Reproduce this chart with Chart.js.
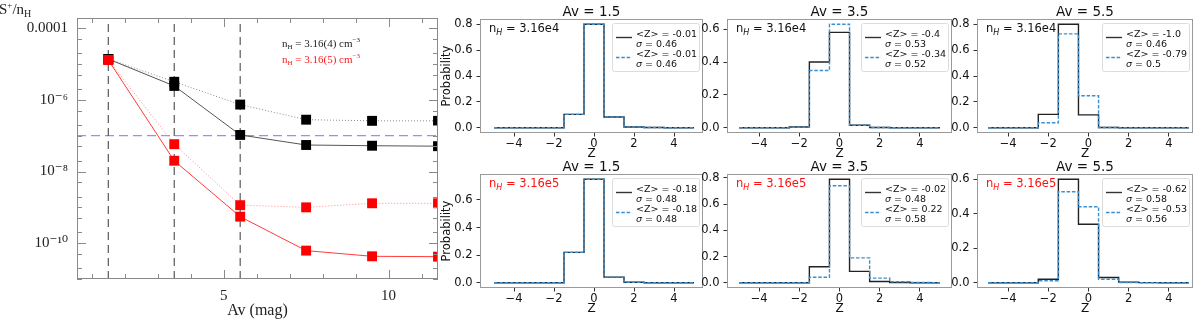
<!DOCTYPE html>
<html>
<head>
<meta charset="utf-8">
<script src="https://cdn.jsdelivr.net/npm/chart.js@4.4.1/dist/chart.umd.min.js"></script>
<style>
html, body { margin: 0; padding: 0; background: #fff; }
#wrap { position: relative; width: 1200px; height: 319px; overflow: hidden; }
canvas { position: absolute; }
</style>
</head>
<body>
<div id="wrap"></div>
<script>
// ---- left panel: S+/nH against Av ----
var av = [1.5, 3.5, 5.5, 7.5, 9.5, 11.5];
var e4Solid  = [1.38e-5, 2.45e-6, 1.05e-7, 5.5e-8, 5.25e-8, 5.1e-8];
var e4Dotted = [1.38e-5, 3.2e-6, 7.4e-7, 2.8e-7, 2.6e-7, 2.6e-7];
var e5Solid  = [1.3e-5, 2.0e-8, 5.5e-10, 6.2e-11, 4.3e-11, 4.2e-11];
var e5Dotted = [1.3e-5, 5.8e-8, 1.15e-9, 1.0e-9, 1.3e-9, 1.3e-9];
var avMarks = [1.5, 3.5, 5.5];
var sLevel = 1e-7;
var avTicks = [5, 10];
var sTicks = [1e-10, 1e-8, 1e-6, 1e-4];

// ---- histograms of Z ----
var zBins = [-5, -4, -3, -2, -1, 0, 1, 2, 3, 4, 5];
var zTicks = [-4, -2, 0, 2, 4];
var avTitles = ["Av = 1.5", "Av = 3.5", "Av = 5.5"];
var nhLabels = ["3.16e4", "3.16e5"];

var e4Black15 = [0, 0, 0, 0, 0.104, 0.80, 0.083, 0.006, 0.002, 0.001, 0.001];
var e4Blue15  = [0, 0, 0, 0, 0.104, 0.80, 0.083, 0.006, 0.002, 0.001, 0.001];
var e4Black35 = [0, 0, 0, 0.005, 0.40, 0.58, 0.016, 0.002, 0, 0, 0];
var e4Blue35  = [0, 0, 0, 0.003, 0.348, 0.63, 0.016, 0.002, 0, 0, 0];
var e4Black55 = [0, 0, 0, 0.104, 0.80, 0.10, 0.002, 0, 0, 0, 0];
var e4Blue55  = [0, 0, 0, 0.039, 0.725, 0.247, 0.003, 0, 0, 0, 0];

var e5Black15 = [0, 0, 0, 0.001, 0.22, 0.75, 0.041, 0.004, 0.001, 0, 0];
var e5Blue15  = [0, 0, 0, 0.001, 0.22, 0.75, 0.041, 0.004, 0.001, 0, 0];
var e5Black35 = [0, 0, 0, 0.001, 0.123, 0.79, 0.087, 0.01, 0.002, 0, 0];
var e5Blue35  = [0, 0, 0, 0.001, 0.043, 0.74, 0.19, 0.036, 0.008, 0.002, 0];
var e5Black55 = [0, 0, 0, 0.021, 0.60, 0.339, 0.031, 0.004, 0.001, 0, 0];
var e5Blue55  = [0, 0, 0, 0.012, 0.527, 0.44, 0.021, 0.002, 0, 0, 0];

var meanE4Black = ["-0.01", "-0.4", "-1.0"];
var sigE4Black  = ["0.46", "0.53", "0.46"];
var meanE4Blue  = ["-0.01", "-0.34", "-0.79"];
var sigE4Blue   = ["0.46", "0.52", "0.5"];
var meanE5Black = ["-0.18", "-0.02", "-0.62"];
var sigE5Black  = ["0.48", "0.48", "0.58"];
var meanE5Blue  = ["-0.18", "0.22", "-0.53"];
var sigE5Blue   = ["0.48", "0.58", "0.56"];

var wrap = document.getElementById("wrap");
var SANS = '"DejaVu Sans"';
var SERIF = '"Liberation Serif", "DejaVu Serif", serif';

function rich(ctx, x, y, parts) {
  parts.forEach(function (p) {
    ctx.font = p.f;
    ctx.fillText(p.t, x, y + (p.dy || 0));
    x += ctx.measureText(p.t).width;
  });
  return x;
}

function addCanvas(l, t, w, h) {
  var cv = document.createElement("canvas");
  cv.width = w; cv.height = h;
  cv.style.left = l + "px"; cv.style.top = t + "px";
  wrap.appendChild(cv);
  return cv;
}

function pts(xs, ys) { return xs.map(function (x, i) { return { x: x, y: ys[i] }; }); }

// ---------- left panel ----------
var sMin = 1e-11, sMax = 1.93e-4, avMin = 0.55, avMax = 11.5;

var leftDeco = {
  id: "leftDeco",
  afterDraw: function (chart) {
    var ctx = chart.ctx, a = chart.chartArea, xs = chart.scales.x, ys = chart.scales.y;
    ctx.save();
    ctx.strokeStyle = "#8a8a8a"; ctx.lineWidth = 1;
    ctx.strokeRect(a.left + 0.5, a.top + 0.5, a.right - a.left - 1, a.bottom - a.top - 1);
    ctx.beginPath();
    for (var e = -11; e <= -4; e++) {
      [1, 2, 5].forEach(function (m) {
        var v = m * Math.pow(10, e);
        if (v < sMin || v > sMax) return;
        var y = Math.round(ys.getPixelForValue(v)) + 0.5;
        var len = (m === 1 && e % 2 === 0) ? 9 : 5;
        ctx.moveTo(a.left, y); ctx.lineTo(a.left + len, y);
        ctx.moveTo(a.right, y); ctx.lineTo(a.right - len, y);
      });
    }
    for (var v = 1; v <= 11; v++) {
      var x = Math.round(xs.getPixelForValue(v)) + 0.5;
      var len = v % 5 === 0 ? 9 : 5;
      ctx.moveTo(x, a.top); ctx.lineTo(x, a.top + len);
      ctx.moveTo(x, a.bottom); ctx.lineTo(x, a.bottom - len);
    }
    ctx.stroke();

    ctx.fillStyle = "#222"; ctx.textBaseline = "alphabetic"; ctx.textAlign = "left";
    rich(ctx, -1, 14, [
      { t: "S", f: "15px " + SERIF },
      { t: "+", f: "9px " + SERIF, dy: -6 },
      { t: "/n", f: "15px " + SERIF },
      { t: "H", f: "10px " + SERIF, dy: 3 }
    ]);
    ctx.textAlign = "center";
    ctx.font = "16px " + SERIF;
    ctx.fillText("Av (mag)", (a.left + a.right) / 2, 315);
    ctx.textAlign = "left";
    var lines = [["3.16(4)", "#222", 47], ["3.16(5)", "#ff1a1a", 63]];
    lines.forEach(function (ln) {
      ctx.fillStyle = ln[1];
      rich(ctx, 282, ln[2], [
        { t: "n", f: "11px " + SERIF },
        { t: "H", f: "7px " + SERIF, dy: 2 },
        { t: " = " + ln[0] + " cm", f: "11px " + SERIF },
        { t: "\u22123", f: "7px " + SERIF, dy: -5 }
      ]);
    });
    ctx.restore();
  }
};

var supMap = { "-": "\u207B", "0": "\u2070", "1": "\u00B9", "2": "\u00B2", "3": "\u00B3", "4": "\u2074", "5": "\u2075", "6": "\u2076", "7": "\u2077", "8": "\u2078", "9": "\u2079" };
function sciLabel(v) {
  if (Math.abs(v - 1e-4) < 1e-9) return "0.0001";
  var e = Math.round(Math.log10(v));
  return "10" + String(e).split("").map(function (c) { return supMap[c]; }).join("");
}

function refLine(p, color, dash) {
  return { data: p, borderColor: color, borderWidth: 1.2, borderDash: dash, pointRadius: 0, fill: false };
}

var leftCv = addCanvas(0, 0, 450, 319);
var leftSets = [
  { data: pts(av, e5Solid), borderColor: "#ff3b3b", borderWidth: 1, pointStyle: "rect", pointRadius: 7,
    pointBackgroundColor: "#ff0000", pointBorderWidth: 0 },
  { data: pts(av, e5Dotted), borderColor: "#ff8a8a", borderWidth: 1, borderDash: [1, 2], pointStyle: "rect", pointRadius: 7,
    pointBackgroundColor: "#ff0000", pointBorderWidth: 0 },
  { data: pts(av, e4Solid), borderColor: "#555", borderWidth: 1, pointStyle: "rect", pointRadius: 7,
    pointBackgroundColor: "#000", pointBorderWidth: 0 },
  { data: pts(av, e4Dotted), borderColor: "#888", borderWidth: 1, borderDash: [1, 2], pointStyle: "rect", pointRadius: 7,
    pointBackgroundColor: "#000", pointBorderWidth: 0 }
];
avMarks.forEach(function (m) {
  leftSets.push(refLine([{ x: m, y: sMin }, { x: m, y: sMax }], "#5a5a5a", [8, 5]));
});
leftSets.push(refLine([{ x: avMin, y: sLevel }, { x: avMax, y: sLevel }], "#9090ff", [9, 5]));

new Chart(leftCv, {
  type: "line",
  data: { datasets: leftSets },
  options: {
    responsive: false, animation: false, events: [],
    layout: { padding: { top: 17, right: 12, left: 0, bottom: 0 } },
    plugins: { legend: { display: false }, tooltip: { enabled: false } },
    scales: {
      x: {
        type: "linear", min: avMin, max: avMax,
        afterFit: function (s) { s.height = 40; },
        afterBuildTicks: function (s) { s.ticks = avTicks.map(function (v) { return { value: v }; }); },
        grid: { display: false, drawTicks: false }, border: { display: false },
        ticks: { padding: 8, color: "#222", font: { family: SERIF, size: 15 } }
      },
      y: {
        type: "logarithmic", min: sMin, max: sMax,
        afterFit: function (s) { s.width = 77; },
        afterBuildTicks: function (s) { s.ticks = sTicks.map(function (v) { return { value: v }; }); },
        grid: { display: false, drawTicks: false }, border: { display: false },
        ticks: { padding: 9, color: "#222", font: { family: SERIF, size: 15 }, callback: sciLabel }
      }
    }
  },
  plugins: [leftDeco]
});

// ---------- histogram panels ----------
var cols = [
  { l: 480, r: 703, xmin: -5.7, xmax: 5.45 },
  { l: 727, r: 952, xmin: -5.6, xmax: 5.6 },
  { l: 977, r: 1193, xmin: -5.55, xmax: 5.2 }
];
var rows = [{ t: 19, b: 133 }, { t: 174, b: 288 }];

var histDeco = {
  id: "histDeco",
  afterDraw: function (chart, args, o) {
    var ctx = chart.ctx, a = chart.chartArea;
    ctx.save();
    ctx.strokeStyle = "#9a9a9a"; ctx.lineWidth = 1;
    ctx.strokeRect(a.left + 0.5, a.top + 0.5, a.right - a.left - 1, a.bottom - a.top - 1);

    ctx.fillStyle = "#111"; ctx.textBaseline = "alphabetic"; ctx.textAlign = "center";
    ctx.font = "13.5px " + SANS;
    ctx.fillText(o.title, (a.left + a.right) / 2, a.top - 3);
    ctx.font = "12px " + SANS;
    ctx.fillText("Z", (a.left + a.right) / 2, a.bottom + 24);
    if (o.ylabel) {
      ctx.save();
      ctx.translate(a.left - 33, (a.top + a.bottom) / 2);
      ctx.rotate(-Math.PI / 2);
      ctx.textBaseline = "middle";
      ctx.font = "11.5px " + SANS;
      ctx.fillText("Probability", 0, 0);
      ctx.restore();
    }

    ctx.textAlign = "left";
    ctx.fillStyle = o.nhColor;
    rich(ctx, a.left + 9, a.top + 13, [
      { t: "n", f: "11.5px " + SANS },
      { t: "H", f: "italic 8px " + SANS, dy: 2.5 },
      { t: " = " + o.nh, f: "11.5px " + SANS }
    ]);

    // legend
    var f = "9.5px " + SANS;
    ctx.font = f;
    var tw = 0;
    o.entries.forEach(function (en) {
      tw = Math.max(tw, ctx.measureText("<Z> = " + en.mean).width, ctx.measureText("\u03C3 = " + en.sig).width);
    });
    var lw = 26 + tw, lh = 48, lx = a.right - 4 - lw, ly = a.top + 4;
    ctx.fillStyle = "rgba(255,255,255,0.85)";
    ctx.strokeStyle = "#dcdcdc";
    ctx.beginPath();
    ctx.roundRect(lx + 0.5, ly + 0.5, lw, lh, 2);
    ctx.fill(); ctx.stroke();
    o.entries.forEach(function (en, i) {
      var base = ly + (i === 0 ? 0 : 20);
      ctx.strokeStyle = en.color; ctx.lineWidth = 1.4;
      ctx.setLineDash(en.dash);
      ctx.beginPath();
      ctx.moveTo(lx + 4, base + 14.5); ctx.lineTo(lx + 20, base + 14.5);
      ctx.stroke();
      ctx.setLineDash([]);
      ctx.fillStyle = "#111"; ctx.textBaseline = "middle";
      ctx.font = f;
      ctx.fillText("<Z> = " + en.mean, lx + 24, base + 12);
      rich(ctx, lx + 24, base + 21.5, [
        { t: "\u03C3", f: "italic " + f },
        { t: " = " + en.sig, f: f }
      ]);
    });
    ctx.restore();
  }
};

function makeHist(row, col, black, blue, meanK, sigK, meanB, sigB) {
  var c = cols[col], r = rows[row];
  var cv = addCanvas(c.l - 40, r.t - 19, c.r - c.l + 46, 164);
  var top = Math.max.apply(null, black.concat(blue));
  var ymax = top * 1.05, ymin = -top * 0.05;
  var yt = [];
  for (var k = 0; k * 0.2 <= ymax + 1e-9; k++) yt.push(Math.round(k * 2) / 10);
  new Chart(cv, {
    type: "line",
    data: {
      datasets: [
        { data: pts(zBins, blue), borderColor: "#3b8fd0", borderWidth: 1.4, borderDash: [3.5, 1.8],
          stepped: "middle", pointRadius: 0, fill: false },
        { data: pts(zBins, black), borderColor: "#222", borderWidth: 1.4,
          stepped: "middle", pointRadius: 0, fill: false }
      ]
    },
    options: {
      responsive: false, animation: false, events: [],
      layout: { padding: { top: 19, right: 6, left: 0, bottom: 0 } },
      plugins: {
        legend: { display: false }, tooltip: { enabled: false },
        histDeco: {
          title: avTitles[col], nh: nhLabels[row], nhColor: row === 0 ? "#111" : "#ff1010",
          ylabel: col === 0,
          entries: [
            { mean: meanK[col], sig: sigK[col], color: "#333", dash: [] },
            { mean: meanB[col], sig: sigB[col], color: "#3b8fd0", dash: [3.5, 1.8] }
          ]
        }
      },
      scales: {
        x: {
          type: "linear", min: c.xmin, max: c.xmax,
          afterFit: function (s) { s.height = 31; },
          afterBuildTicks: function (s) { s.ticks = zTicks.map(function (v) { return { value: v }; }); },
          grid: { drawOnChartArea: false, tickLength: 3.5, color: "#333" }, border: { display: false },
          ticks: { padding: 1, color: "#111", font: { family: "DejaVu Sans", size: 11.5 },
            callback: function (v) { return v < 0 ? "\u2212" + (-v) : String(v); } }
        },
        y: {
          type: "linear", min: ymin, max: ymax,
          afterFit: function (s) { s.width = 40; },
          afterBuildTicks: function (s) { s.ticks = yt.map(function (v) { return { value: v }; }); },
          grid: { drawOnChartArea: false, tickLength: 3.5, color: "#333" }, border: { display: false },
          ticks: { padding: 4, color: "#111", font: { family: "DejaVu Sans", size: 11.5 },
            callback: function (v) { return Number(v).toFixed(1); } }
        }
      }
    },
    plugins: [histDeco]
  });
}

makeHist(0, 0, e4Black15, e4Blue15, meanE4Black, sigE4Black, meanE4Blue, sigE4Blue);
makeHist(0, 1, e4Black35, e4Blue35, meanE4Black, sigE4Black, meanE4Blue, sigE4Blue);
makeHist(0, 2, e4Black55, e4Blue55, meanE4Black, sigE4Black, meanE4Blue, sigE4Blue);
makeHist(1, 0, e5Black15, e5Blue15, meanE5Black, sigE5Black, meanE5Blue, sigE5Blue);
makeHist(1, 1, e5Black35, e5Blue35, meanE5Black, sigE5Black, meanE5Blue, sigE5Blue);
makeHist(1, 2, e5Black55, e5Blue55, meanE5Black, sigE5Black, meanE5Blue, sigE5Blue);
</script>
</body>
</html>
